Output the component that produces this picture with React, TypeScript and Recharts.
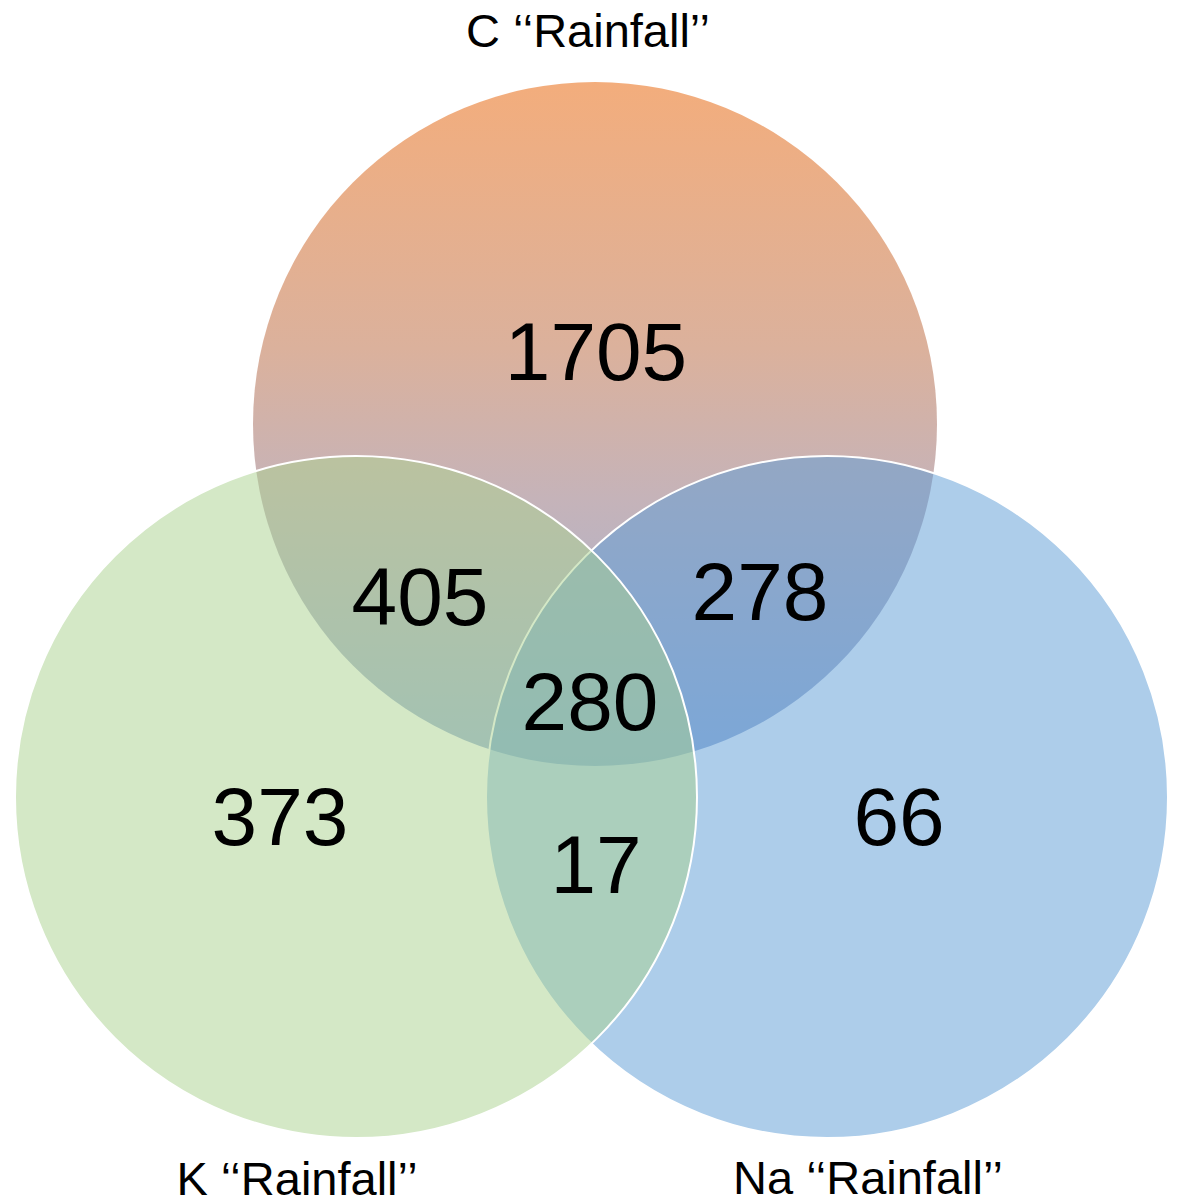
import React from "react";
import { ScatterChart, Scatter, XAxis, YAxis } from "recharts";

// ---- data ----
const setNames = ["C", "K", "Na"];
const setTitles = ["C \u2018\u2018Rainfall\u2019\u2019", "K \u2018\u2018Rainfall\u2019\u2019", "Na \u2018\u2018Rainfall\u2019\u2019"];
const regionKeys = ["C", "K", "Na", "C&K", "C&Na", "K&Na", "C&K&Na"];
const regionCounts = [1705, 373, 66, 405, 278, 17, 280];

// ---- layout (chart units = pixels) ----
const W = 1178;
const H = 1198;
const circleLayout: Record<string, { x: number; y: number; r: number }> = {
  C: { x: 595, y: 424, r: 342 },
  K: { x: 356, y: 797, r: 341 },
  Na: { x: 827, y: 797, r: 341 },
};
const regionLayout: Record<string, { x: number; y: number }> = {
  C: { x: 596, y: 380 },
  K: { x: 280, y: 845 },
  Na: { x: 899, y: 845 },
  "C&K": { x: 420, y: 625 },
  "C&Na": { x: 760, y: 620 },
  "K&Na": { x: 596, y: 893 },
  "C&K&Na": { x: 590, y: 730 },
};
const titleLayout: Record<string, { x: number; y: number }> = {
  C: { x: 588, y: 47 },
  K: { x: 297, y: 1195 },
  Na: { x: 868, y: 1194 },
};

const circleData = (name: string) => [{ ...circleLayout[name], name }];
const regionData = regionKeys.map((k, i) => ({ ...regionLayout[k], key: k, value: regionCounts[i] }));
const titleData = setNames.map((n, i) => ({ ...titleLayout[n], label: setTitles[i] }));

const FONT = "'Liberation Sans', Arial, sans-serif";

const CShape = (p: any) => (
  <g>
    <defs>
      <linearGradient id="gradC" x1="0" y1="0" x2="0" y2="1">
        <stop offset="0" stopColor="#F3AD7C" />
        <stop offset="0.39" stopColor="#DBB19C" />
        <stop offset="0.61" stopColor="#C5B3B9" />
        <stop offset="1" stopColor="#9AB2DA" />
      </linearGradient>
    </defs>
    <circle cx={p.cx} cy={p.cy} r={p.payload.r} fill="url(#gradC)" stroke="none" />
  </g>
);

const makeShape = (color: string) => (p: any) => (
  <circle cx={p.cx} cy={p.cy} r={p.payload.r} fill={color} fillOpacity={0.5} stroke="#FFFFFF" strokeWidth={2} />
);

const NumberShape = (p: any) => (
  <text x={p.cx} y={p.cy} textAnchor="middle" fontFamily={FONT} fontSize={82} fill="#000000">
    {p.payload.value}
  </text>
);

const TitleShape = (p: any) => (
  <text x={p.cx} y={p.cy} textAnchor="middle" fontFamily={FONT} fontSize={47} fill="#000000">
    {p.payload.label}
  </text>
);

export default function App() {
  return (
    <div style={{ width: W, height: H, background: "#FFFFFF" }}>
      <style>{`body{margin:0;background:#fff}`}</style>
      <ScatterChart width={W} height={H} margin={{ top: 0, right: 0, bottom: 0, left: 0 }}>
        <XAxis type="number" dataKey="x" domain={[0, W]} hide />
        <YAxis type="number" dataKey="y" domain={[0, H]} reversed hide />
        <Scatter data={circleData("C")} shape={CShape} isAnimationActive={false} />
        <Scatter data={circleData("Na")} shape={makeShape("#5B9BD5")} isAnimationActive={false} />
        <Scatter data={circleData("K")} shape={makeShape("#A9D18E")} isAnimationActive={false} />
        <Scatter data={regionData} shape={NumberShape} isAnimationActive={false} />
        <Scatter data={titleData} shape={TitleShape} isAnimationActive={false} />
      </ScatterChart>
    </div>
  );
}
